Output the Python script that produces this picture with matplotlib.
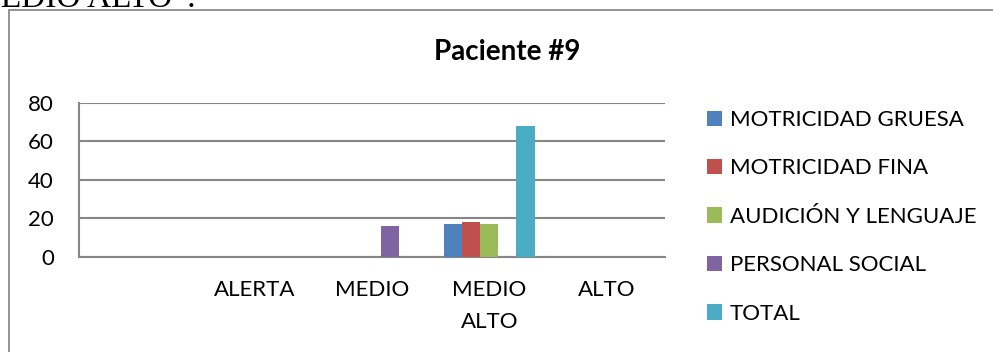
import matplotlib
matplotlib.use("Agg")
import matplotlib.pyplot as plt
from matplotlib.patches import Patch, Rectangle
import numpy as np

categories = ["", "ALERTA", "MEDIO", "MEDIO\nALTO", "ALTO"]
series_names = ["MOTRICIDAD GRUESA", "MOTRICIDAD FINA", "AUDICIÓN Y LENGUAJE",
                "PERSONAL SOCIAL", "TOTAL"]
motricidad_gruesa = [0, 0, 0, 17, 0]
motricidad_fina = [0, 0, 0, 18, 0]
audicion_lenguaje = [0, 0, 0, 17, 0]
personal_social = [0, 0, 16, 0, 0]
total = [0, 0, 0, 68, 0]
y_ticks = [0, 20, 40, 60, 80]

colors = ["#4F81BD", "#C0504D", "#9BBB59", "#8064A2", "#4BACC6"]
series = [motricidad_gruesa, motricidad_fina, audicion_lenguaje, personal_social, total]

plt.rcParams['font.family'] = ['Lato', 'DejaVu Sans']

W, H = 993, 352
fig = plt.figure(figsize=(W / 100, H / 100), dpi=100)

# outer chart border (extends beyond image on right and bottom)
fig.patches.append(Rectangle((9 / W, -0.1), 1.2, (H - 10) / H + 0.1,
                             transform=fig.transFigure, fill=False,
                             edgecolor="#8a8a8a", linewidth=1.3))

# cropped text of the document above
fig.text(-29 / W, (H - 7) / H, "MEDIO ALTO”.", family="Liberation Serif",
         fontsize=24, va="baseline", ha="left", color="black")

left, right, top, bottom = 79, 665, 102.7, 256.7
ax = fig.add_axes([left / W, 1 - bottom / H, (right - left) / W, (bottom - top) / H])

x = np.arange(len(categories))
w = 0.155
for i, (name, vals, c) in enumerate(zip(series_names, series, colors)):
    ax.bar(x + (i - 2) * w, vals, width=w, color=c, label=name, zorder=3)

ax.set_xlim(-0.5, len(categories) - 0.5)
ax.set_ylim(0, 80)
ax.set_yticks(y_ticks)
ax.set_yticklabels([str(v) for v in y_ticks])
ax.set_xticks(x)
ax.set_xticklabels(categories, linespacing=1.75)
ax.yaxis.grid(True, color="#868686", linewidth=1.5, zorder=0)
ax.set_axisbelow(True)
for s in ["top", "right"]:
    ax.spines[s].set_visible(False)
ax.spines["left"].set_color("#868686")
ax.spines["bottom"].set_color("#868686")
ax.spines["left"].set_linewidth(1.5)
ax.spines["bottom"].set_linewidth(1.5)
ax.tick_params(axis="both", length=0, labelsize=16)
ax.tick_params(axis="y", pad=18)
ax.tick_params(axis="x", pad=17)

fig.text(507 / W, 1 - 52 / H, "Paciente #9", ha="center", va="center",
         fontsize=20, fontweight="bold")

handles = [Patch(facecolor=c, edgecolor="none") for c in colors]
fig.legend(handles, series_names, loc="upper left",
           bbox_to_anchor=(707 / W, 1 - 110 / H), frameon=False,
           fontsize=16, handlelength=0.68, handleheight=0.68, handletextpad=0.35,
           labelspacing=1.28, borderaxespad=0, borderpad=0)

fig.savefig("out.png", dpi=100)
